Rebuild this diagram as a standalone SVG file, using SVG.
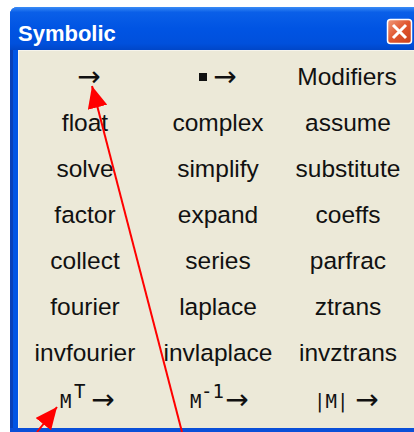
<svg xmlns="http://www.w3.org/2000/svg" width="414" height="432" viewBox="0 0 414 432">
<defs>
<linearGradient id="tb" x1="0" y1="0" x2="0" y2="1">
<stop offset="0" stop-color="#3A8CF6"/>
<stop offset="0.12" stop-color="#0A5FE8"/>
<stop offset="0.5" stop-color="#0054E3"/>
<stop offset="0.85" stop-color="#0050DC"/>
<stop offset="1" stop-color="#0046C8"/>
</linearGradient>
<linearGradient id="cb" x1="0" y1="0" x2="1" y2="1">
<stop offset="0" stop-color="#F09A7C"/>
<stop offset="0.5" stop-color="#E0552E"/>
<stop offset="1" stop-color="#C8401C"/>
</linearGradient>
<marker id="ah" markerUnits="userSpaceOnUse" markerWidth="22" markerHeight="20" refX="22" refY="10" orient="auto" viewBox="0 0 22 20">
<path d="M0,0 L22,10 L0,20 z" fill="#FF0000"/>
</marker>
<style>
.cell{font-family:"Liberation Sans",Arial,sans-serif;font-size:24.5px;fill:#111;text-anchor:middle}
.mm{font-family:"DejaVu Sans Mono","Liberation Mono",monospace;font-size:19px;fill:#111}
.ar{font-family:"DejaVu Sans",sans-serif;font-size:28px;fill:#111;text-anchor:middle}
.title{font-family:"Liberation Sans",Arial,sans-serif;font-weight:bold;font-size:22px;fill:#FFFFFF}
.conn{stroke:#FF0000;stroke-width:2;fill:none}
</style>
</defs>
<rect x="0" y="0" width="414" height="432" fill="#FFFFFF"/>
<g id="window">
<path d="M10,15 Q10,7 18,7 L414,7 L414,432 L10,432 z" fill="#0055E5"/>
<path d="M10,15 Q10,7 18,7 L414,7 L414,50 L10,50 z" fill="url(#tb)"/>
<rect x="10" y="50" width="3" height="382" fill="#0840B8"/>
<rect x="18" y="50" width="396" height="378" fill="#ECE9D8"/>
<line x1="18" y1="50.5" x2="414" y2="50.5" stroke="#F6F4EC" stroke-width="1"/>
<line x1="18.5" y1="50" x2="18.5" y2="428" stroke="#F6F4EC" stroke-width="1"/>
<rect x="10" y="428" width="404" height="4" fill="#0A4FD8"/>
<text class="title" x="18" y="41">Symbolic</text>
</g>
<g id="close">
<rect x="387.5" y="19.5" width="24" height="24" rx="3" fill="url(#cb)" stroke="#FFFFFF" stroke-width="1.5"/>
<path d="M393,25 L406,38 M406,25 L393,38" stroke="#FFFFFF" stroke-width="3"/>
</g>
<g id="r1c1"><text class="ar" x="89" y="86">→</text></g>
<g id="r1c2"><rect x="199" y="73" width="8" height="8" fill="#111"/><text class="ar" x="225" y="86">→</text></g>
<g id="r1c3"><text class="cell" x="347" y="85">Modifiers</text></g>
<g id="float"><text class="cell" x="85" y="131">float</text></g>
<g id="complex"><text class="cell" x="218" y="131">complex</text></g>
<g id="assume"><text class="cell" x="348" y="131">assume</text></g>
<g id="solve"><text class="cell" x="85" y="177">solve</text></g>
<g id="simplify"><text class="cell" x="218" y="177">simplify</text></g>
<g id="substitute"><text class="cell" x="348" y="177">substitute</text></g>
<g id="factor"><text class="cell" x="85" y="223">factor</text></g>
<g id="expand"><text class="cell" x="218" y="223">expand</text></g>
<g id="coeffs"><text class="cell" x="348" y="223">coeffs</text></g>
<g id="collect"><text class="cell" x="85" y="269">collect</text></g>
<g id="series"><text class="cell" x="218" y="269">series</text></g>
<g id="parfrac"><text class="cell" x="348" y="269">parfrac</text></g>
<g id="fourier"><text class="cell" x="85" y="315">fourier</text></g>
<g id="laplace"><text class="cell" x="218" y="315">laplace</text></g>
<g id="ztrans"><text class="cell" x="348" y="315">ztrans</text></g>
<g id="invfourier"><text class="cell" x="85" y="361">invfourier</text></g>
<g id="invlaplace"><text class="cell" x="218" y="361">invlaplace</text></g>
<g id="invztrans"><text class="cell" x="348" y="361">invztrans</text></g>
<g id="transpose"><text class="mm" x="60" y="408">M</text><text class="mm" x="74" y="398" font-size="12">T</text><text class="ar" x="103" y="409">→</text></g>
<g id="inverse"><text class="mm" x="190" y="408">M</text><text class="mm" x="201" y="398" font-size="11">-1</text><text class="ar" x="237" y="409">→</text></g>
<g id="determinant"><text class="mm" x="314" y="408">|M|</text><text class="ar" x="367" y="409">→</text></g>
<g id="connectors">
<line class="conn" x1="182" y1="432" x2="92" y2="86" marker-end="url(#ah)"/>
<line class="conn" x1="37" y1="432" x2="57" y2="407" marker-end="url(#ah)"/>
</g>
</svg>
